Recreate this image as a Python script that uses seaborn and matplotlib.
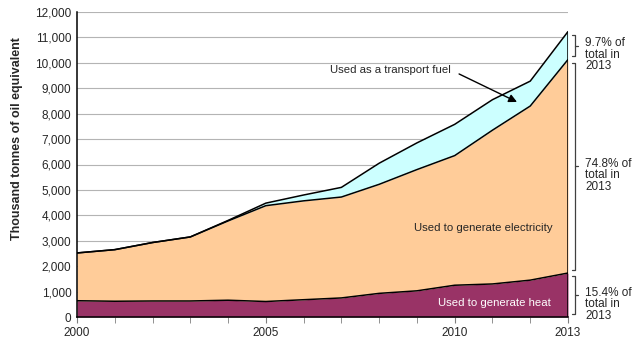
import numpy as np
import pandas as pd
import matplotlib.pyplot as plt
import seaborn as sns

# values (thousand tonnes of oil equivalent)
years = list(range(2000, 2014))
heat = [640, 620, 630, 630, 660, 610, 680, 750, 930, 1030, 1250, 1300, 1450, 1730]
electricity = [1880, 2030, 2300, 2520, 3120, 3770, 3890, 3970, 4290, 4770, 5100, 6050, 6850, 8400]
transport = [0, 0, 0, 0, 20, 100, 230, 380, 830, 1050, 1230, 1200, 980, 1100]
shares = ['15.4%', '74.8%', '9.7%']

df = pd.DataFrame({'year': years, 'heat': heat, 'electricity': electricity, 'transport': transport})
df['top_heat'] = df['heat']
df['top_elec'] = df['heat'] + df['electricity']
df['top_total'] = df['top_elec'] + df['transport']

sns.set_style('white')
plt.rcParams['font.family'] = ['Liberation Sans', 'DejaVu Sans']

fig = plt.figure(figsize=(6.39, 3.56), dpi=100)
ax = fig.add_axes([77 / 639, 1 - 317 / 356, (568 - 77) / 639, (317 - 12) / 356])

# grid
for v in range(1000, 12001, 1000):
    ax.axhline(v, color='#b4b4b4', lw=0.8, zorder=0)

ax.fill_between(df['year'], 0, df['top_heat'], color='#993366', lw=0, zorder=1)
ax.fill_between(df['year'], df['top_heat'], df['top_elec'], color='#FFCC99', lw=0, zorder=1)
ax.fill_between(df['year'], df['top_elec'], df['top_total'], color='#CCFFFF', lw=0, zorder=1)
for col in ['top_heat', 'top_elec', 'top_total']:
    sns.lineplot(data=df, x='year', y=col, ax=ax, color='black', lw=1.1, zorder=2)
ax.vlines(2013, 0, df['top_total'].iloc[-1], color='black', lw=1.1, zorder=2)

ax.set_xlim(2000, 2013)
ax.set_ylim(0, 12000)
ax.set_xticks([2000, 2005, 2010, 2013])
ax.set_xticks(years, minor=True)
ax.set_yticks(range(0, 12001, 1000))
ax.set_yticklabels([f'{v:,}' for v in range(0, 12001, 1000)])
ax.tick_params(axis='x', which='both', direction='out', length=4, bottom=True, labelsize=8.5, pad=3, color='#808080')
ax.tick_params(axis='y', length=0, labelsize=8.5, pad=4)
ax.set_xlabel('')
ax.set_ylabel('Thousand tonnes of oil equivalent', fontsize=9, fontweight='bold')
ax.yaxis.set_label_coords(-0.11, 0.584)
for s in ['top', 'right']:
    ax.spines[s].set_visible(False)
for s in ['left', 'bottom']:
    ax.spines[s].set_color('black')
    ax.spines[s].set_linewidth(1.1)

ax.text(2010.75, 3500, 'Used to generate electricity', fontsize=8.2, ha='center', va='center')
ax.text(2011.04, 550, 'Used to generate heat', fontsize=8.2, ha='center', va='center', color='white')
ax.annotate('Used as a transport fuel', xy=(2011.65, 8460), xytext=(2006.7, 9720),
            fontsize=8.2, ha='left', va='center',
            arrowprops=dict(arrowstyle='-|>', color='black', lw=1, mutation_scale=12,
                            shrinkA=4, shrinkB=0, relpos=(1, 0.5)))

# brackets with share labels on the right
tr = ax.get_yaxis_transform()
bounds = [(0, df['top_heat'].iloc[-1]), (df['top_heat'].iloc[-1], df['top_elec'].iloc[-1]),
          (df['top_elec'].iloc[-1], df['top_total'].iloc[-1])]
for (y0, y1), s in zip(bounds, shares):
    bx = 1.0145
    pad = 120
    ax.plot([bx - 0.006, bx, bx, bx - 0.006], [y0 + pad, y0 + pad, y1 - pad, y1 - pad],
            transform=tr, color='#404040', lw=0.9, clip_on=False)
    ym = (y0 + y1) / 2
    ax.plot([bx, bx + 0.006], [ym, ym], transform=tr, color='#404040', lw=0.9, clip_on=False)
    ax.text(1.035, ym + 330, f'{s} of\ntotal in\n2013', transform=tr,
            fontsize=8.5, ha='left', va='top', linespacing=0.95)

fig.savefig('out.png', dpi=100)
